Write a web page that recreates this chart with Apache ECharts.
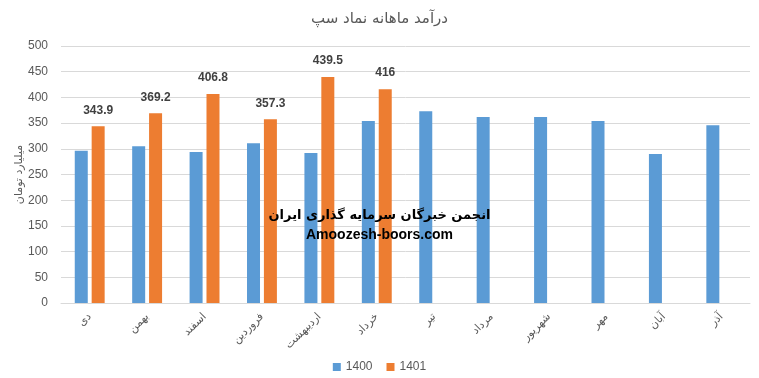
<!DOCTYPE html>
<html>
<head>
<meta charset="utf-8">
<script src="https://cdn.jsdelivr.net/npm/echarts@6/dist/echarts.min.js"></script>
<style>
  html, body { margin: 0; padding: 0; background: #fff; }
  #chart { width: 759px; height: 378px; }
</style>
</head>
<body>
<div id="chart"></div>
<script>
// داده‌ها
var months = ['دی', 'بهمن', 'اسفند', 'فروردین', 'اردیبهشت', 'خرداد', 'تیر', 'مرداد', 'شهریور', 'مهر', 'آبان', 'آذر'];
var sales1400 = [296, 305, 294, 311, 292, 354, 373, 362, 362, 354, 290, 346];
var sales1401 = [343.9, 369.2, 406.8, 357.3, 439.5, 416];
var yTicks = [0, 50, 100, 150, 200, 250, 300, 350, 400, 450, 500];

var chart = echarts.init(document.getElementById('chart'));
var option = {
  animation: false,
  title: {
    text: 'درآمد ماهانه نماد سپ',
    left: 'center',
    top: 7,
    textStyle: { fontFamily: 'DejaVu Sans', fontSize: 15, fontWeight: 'normal', color: '#595959' }
  },
  legend: {
    bottom: 0,
    left: 'center',
    icon: 'rect',
    itemWidth: 8,
    itemHeight: 8,
    itemGap: 14,
    textStyle: { fontFamily: 'Liberation Sans', fontSize: 12, color: '#595959' },
    data: ['1400', '1401']
  },
  grid: { left: 61, right: 9, top: 46, bottom: 75, containLabel: false, outerBoundsMode: 'none' },
  xAxis: {
    type: 'category',
    data: months,
    axisLine: { lineStyle: { color: '#d9d9d9' } },
    axisTick: { show: false },
    axisLabel: { rotate: 45, interval: 0, fontFamily: 'DejaVu Sans', fontSize: 11, color: '#595959', margin: 12 }
  },
  yAxis: {
    type: 'value',
    min: yTicks[0],
    max: yTicks[yTicks.length - 1],
    interval: 50,
    name: 'میلیارد تومان',
    nameLocation: 'middle',
    nameGap: 36,
    nameMoveOverlap: false,
    nameTextStyle: { fontFamily: 'DejaVu Sans', fontSize: 11, color: '#595959' },
    axisLine: { show: false },
    axisTick: { show: false },
    axisLabel: { fontFamily: 'Liberation Sans', fontSize: 12, color: '#595959', margin: 13 },
    splitLine: { lineStyle: { color: '#d9d9d9' } }
  },
  graphic: [
    {
      type: 'text',
      left: 'center',
      top: 209,
      z: 100,
      style: { text: 'انجمن خبرگان سرمایه گذاری ایران', fontFamily: 'DejaVu Sans', fontSize: 13, fontWeight: 'bold', fill: '#000' }
    },
    {
      type: 'text',
      left: 'center',
      top: 228,
      z: 100,
      style: { text: 'Amoozesh-boors.com', fontFamily: 'Liberation Sans', fontSize: 14, fontWeight: 'bold', fill: '#000' }
    }
  ],
  series: [
    {
      name: '1400',
      type: 'bar',
      data: sales1400,
      barWidth: 13,
      barGap: '30%',
      itemStyle: { color: '#5b9bd5' }
    },
    {
      name: '1401',
      type: 'bar',
      data: sales1401,
      barWidth: 13,
      itemStyle: { color: '#ed7d31' },
      label: {
        show: true,
        position: 'top',
        distance: 10,
        fontFamily: 'Liberation Sans',
        fontSize: 12,
        fontWeight: 'bold',
        color: '#404040'
      }
    }
  ]
};
chart.setOption(option);
</script>
</body>
</html>
